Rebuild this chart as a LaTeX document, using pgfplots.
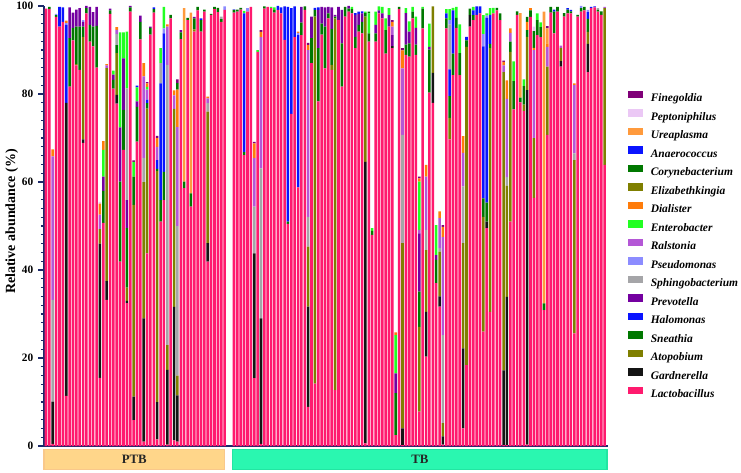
\documentclass[border=0pt]{standalone}
\usepackage{fontspec}
\setmainfont{Liberation Serif}
\usepackage{pgfplots}
\usepackage{pgfplotstable}
\pgfplotsset{compat=1.18}
\usetikzlibrary{calc}

\definecolor{axisblue}{HTML}{1C2A6B}
\definecolor{cL}{HTML}{FF1A6E}
\definecolor{cG}{HTML}{141414}
\definecolor{cA}{HTML}{7F7F00}
\definecolor{cS}{HTML}{007800}
\definecolor{cH}{HTML}{0A14FF}
\definecolor{cP}{HTML}{7400A0}
\definecolor{cSp}{HTML}{A5A5A8}
\definecolor{cPs}{HTML}{8C8CFF}
\definecolor{cR}{HTML}{B457D6}
\definecolor{cE}{HTML}{22FF22}
\definecolor{cD}{HTML}{FF7C0A}
\definecolor{cEl}{HTML}{7F7F00}
\definecolor{cC}{HTML}{007800}
\definecolor{cAn}{HTML}{0A14FF}
\definecolor{cU}{HTML}{FF9A3C}
\definecolor{cPe}{HTML}{EBC8F5}
\definecolor{cF}{HTML}{800078}
\definecolor{ptbfill}{HTML}{FFD68A}
\definecolor{ptbedge}{HTML}{F9C88A}
\definecolor{tbfill}{HTML}{2AF7B0}
\definecolor{tbedge}{HTML}{22E6A2}

% relative abundance (%) per sample; PTB at x=0..53, TB at x=55.8..165.8
\pgfplotstableread{
x L G A S H P Sp Ps R E D El C An U Pe F
0 99.4 0 0 0 0 0 0 0 0 0 0 0 0 0 0 0 0
1 99.3 0 0 0.5 0 0 0 0 0 0 0 0 0 0 0 0 0
2 0.5 9.6 0 0 0 0 23.1 0 32.6 0 1.6 0 0 0 0 0 0
3 97.5 0 0 0.4 0 0 0 0.3 0 0 0 0 0 0 0 0 0
4 95.3 0 0 0 4.5 0 0 0 0 0 0 0 0 0 0 0 0
5 96.4 0 0 0 3.3 0 0 0 0 0 0 0 0 0 0 0 0
6 11.4 66.6 0 0 17.7 0 0 0.4 0 0 0.6 0 0 0 0 0 0
7 81.7 0 0 11 0 7 0 0 0 0 0 0 0 0 0 0 0
8 92.2 0 0 2.8 0 3.5 0 0 0 0 0 0 0 0 0 0 0
9 86.5 0 0.3 8.5 0 3.9 0 0 0 0 0 0 0 0 0 0 0
10 85.5 0 0 9.8 0 4.2 0 0 0 0 0 0 0 0 0 0 0
11 68.9 0.8 23.3 2.3 0 1.1 0 0.4 0 0 0 0 0 0 0 0 0
12 98.3 0 0 1.2 0 0.5 0 0 0 0 0 0 0 0 0 0 0
13 91.9 0 0 3.8 0 4.1 0 0 0 0 0 0 0 0 0 0 0
14 90.8 0 0 4.5 0 3.3 0 0 0 0 0 0 0 0 0 0 0
15 86 0 0 9.5 0 4.3 0 0 0 0 0 0 0 0 0 0 0
16 15.5 30.5 3.3 0 0 0 0 0 3.3 0 2.5 0 0 0 0 0.4 0
17 50.7 0 0 7.3 0 3.2 0 0 0 6.1 2 0 0 0 0 0 0
18 33.2 4.3 48.4 0 0 0 0 0 0.6 0 0.3 0 0 0 0 0 0
19 98.2 0 0 0.8 0 0.4 0 0 0 0 0 0 0 0 0 0 0
20 81.2 0 0 2 0 1.2 0 0 0 0.9 0 0 0 0 0 0 0
21 77.8 2 9.5 1.8 0 0 2.5 0 1 0 0.6 0 0 0 0 0 0
22 41.9 0 0 18.2 0 12.3 0 0 0 21.6 0 0 0 0 0 0 0
23 67.3 0 0 9.1 0 11.7 0 0 0 5.9 0 0 0 0 0 0 0
24 32.5 0.5 3 13.5 0 6.4 25.4 0 0 12.9 0 0 0 0 0 0 0
25 98.7 0 0 1 0 0.3 0 0 0 0 0 0 0 0 0 0 0
26 5.9 5.3 43.6 6.4 0 0 0 0 0 3.4 0 0 0 0 0 0 0.3
27 69.2 0 0 7.9 0 1.2 0 0 0 3.2 0 0 0 0.4 0 0 0
28 92.4 0 0 4 0 1.4 0 0 0 0 0 0 0 0 0 0 0
29 1 28 31 0 0 0 5.5 0 18.5 0 3 0 0 0 0 0 0
30 43.8 0 32.9 1.2 0.8 0 0 0 2.3 0.6 0.8 0 0 0 0 0 0.3
31 93.5 0 0 1.5 0 0.3 0 0 0 0 0 0 0 0 0 0 0
32 98.5 0 0 0.8 0 0 0 0 0 0 0 0 0 0.4 0 0 0
33 1.5 8.5 52.5 0.5 2 0 0 0 3 0 2 0 0 0 0 0 0.5
34 51 0 0 4.9 26.5 0 4.6 0 0 3.4 0 0 0 0 0 0 0
35 55.9 0 0 6.4 31.5 0 0 1.1 0 4.9 0 0 0 0 0 0 0
36 0.3 17 5.6 0 0 0 63.7 0 8.7 0 0.5 0 0 0 0 0 0
37 97.2 0 0 0.8 0 0 0 0 0 0 0 0 0 0 0 0 0
38 1.3 30.3 45 0 0 0 0 0 3.1 0 1.1 0 0 0 0 0 0
39 1 10.5 4.5 0 0 0 34 0 22.5 0 8.5 0 1.5 0 0 0 0.8
40 92.5 0 0 1.5 0 0.5 0 0 0 0 0 0 0 0 0 0 0
41 58.6 0 0 0 0 0 0 0 0 0 0 0 1.5 0 39.4 0 0
42 96.8 0 0 0.5 0 0 0 0 0 0 0 0 0 0 0 0 0
43 54.4 0 0 0 0 0 0 0 0 0 0 0 3 0 41.1 0 0
44 94.2 0 0.5 2.5 0 0.3 0 0 0 0 0 0 0 0 0 0 0
45 99 0 0 0.8 0 0 0 0 0 0 0 0 0 0 0 0 0
46 94.2 0 0 2.6 0.4 0 0 0 0 0 0 0 0 0 0 0 0
47 98.7 0 0 0.5 0 0 0 0 0 0 0 0 0 0 0 0 0
48 41.9 4.2 29.9 0 0 0 1.9 0 1.1 0 0.4 0 0 0 0 0 0
49 98 0 0 0.2 0 0 0 0 0 0 0 0 0 0 0 0 0
50 99.3 0 0 0.5 0 0 0 0 0 0 0 0 0 0 0 0 0
51 98.6 0 0 1 0 0 0 0 0 0 0 0 0 0 0 0 0
52 96.4 0 0 0.6 0 0 0.6 0 0 0 0 0 0 0 0 0 0
53 99.1 0 0 0 0 0 0 0.8 0 0 0 0 0 0 0 0 0
55.8 98.5 0 0 0.6 0 0 0 0.2 0 0 0 0 0 0 0 0 0
56.8 98.7 0 0 0.5 0 0 0 0 0 0 0 0 0 0 0 0 0
57.8 99.2 0 0 0.4 0 0 0 0 0 0 0 0 0 0 0 0 0
58.8 66.1 0 0 0.7 31.5 0 0 0 0 0.6 0 0 0 0 0 0 0
59.8 98.7 0 0 0 0 0 0 0.8 0 0 0 0 0 0 0 0 0
60.8 99.8 0 0 0 0 0 0 0 0 0 0 0 0 0 0 0 0
61.8 15.4 28.4 0 0 0 0 10.6 0 11 0 3.4 0 0 0 0 0 0.3
62.8 89.6 0 0 0 0 0 0 0 0 0.4 0 0 0 0 0 0 0
63.8 0.5 28.5 0 0 0 0 34.1 0 29.8 0 1.2 0 0 0 0 0 0.4
64.8 99.4 0 0 0.5 0 0 0 0 0 0 0 0 0 0 0 0 0
65.8 99.8 0 0 0 0 0 0 0 0 0 0 0 0 0 0 0 0
66.8 99.5 0 0 0 0 0 0 0 0 0.3 0 0 0 0 0 0 0
67.8 98.5 0 0 0.6 0 0 0 0 0 0.6 0 0 0 0 0 0 0
68.8 99.1 0 0 0 0.9 0 0 0 0 0 0 0 0 0 0 0 0
69.8 98.3 0 0 0 1.4 0 0 0 0 0 0 0 0 0 0 0 0
70.8 92.3 0 0 0 7.6 0 0 0 0 0 0 0 0 0 0 0 0
71.8 50.5 0 0 0.5 48.8 0 0 0 0 0 0 0 0 0 0 0 0
72.8 75.5 0 0 0 24 0 0 0 0 0 0 0 0 0 0 0 0
73.8 92.9 0 0 0 7 0 0 0 0 0 0 0 0 0 0 0 0
74.8 58.8 0 0 0 34.6 0 0 0.5 0 0 0.3 0 0 0 0 0 0
75.8 93.4 0 0 2.8 0 3.6 0 0 0 0 0 0 0 0 0 0 0
76.8 99.1 0 0 0.8 0 0 0 0 0 0 0 0 0 0 0 0 0
77.8 8.9 22.8 13.6 0 0 0 6.8 0 37.9 0 1.1 0 0 0 0 0 0.5
78.8 87 0 0 5.7 0 4.9 0 0 0 0 0 0 0 0 0 0 0
79.8 14.2 0 83.4 1.5 0.5 0 0 0 0 0 0 0 0 0 0 0 0
80.8 78.3 0 0 12.1 0 8.7 0 0 0 0 0 0 0 0.6 0 0 0
81.8 93.5 0 0 2.5 0 3.8 0 0 0 0 0 0 0 0 0 0 0
82.8 85.8 0 0 9.5 0 4.4 0 0 0 0 0 0 0 0 0 0 0
83.8 97.2 0 0 1.1 0 1.5 0 0 0 0 0 0 0 0 0 0 0
84.8 85.5 0 1.1 8.2 0 4.9 0 0 0 0 0 0 0 0 0 0 0
85.8 12.7 0 84.5 0.4 0 0.4 0 0 0 0 0 0 0 0 0 0 0
86.8 96.8 0 0 0 0 3 0 0 0 0 0 0 0 0 0 0 0
87.8 81.7 0 0 9.8 0 7.6 0 0 0 0 0 0 0 0 0 0 0
88.8 97.6 0 0 2.2 0 0 0 0 0 0 0 0 0 0 0 0 0
89.8 98.7 0 0 0.7 0 0.6 0 0 0 0 0 0 0 0 0 0 0
90.8 98.3 0 0 1 0 0 0 0 0 0.5 0 0 0 0 0 0 0
91.8 90.4 0 0 2.6 0 5 0 0 0 0 0 0 0 0.4 0 0 0
92.8 94.2 0 0 1.5 0 2.5 0 0 0 0 0 0 0 0.5 0 0 0
93.8 93.8 0 0 2.6 0 1.9 0 0 0 0 0 0 0 0.5 0 0 0
94.8 0.6 64 33 0.8 0 0 0 0 0 0.3 0 0 0 0 0 0 0
95.8 91.9 0 0 1.9 0 0 0 0 0 4.5 0 0 0.4 0 0 0 0
96.8 48 0 0 0.9 0 0 0 0 0 0.6 0 0 0 0 0 0 0
97.8 91.9 0 0 1.9 0 1.9 0 0 0 3 0 0 0 0 0 0 0
98.8 98.3 0 0 0 0 0.7 0 0 0 0.9 0 0 0 0 0 0 0
99.8 97.2 0 0 0 0 1.1 0 0 0 1.5 0 0 0 0 0 0 0
100.8 89.2 0 0 5.3 0 0 0 0 0 2.7 0 0 0 0 0 0 0
101.8 95.3 0 0 0 0 2.6 0 0 0 1.6 0 0 0 0 0 0 0
102.8 90.4 0.5 0 0 0 2.5 0 0 1.9 0 1.1 0 0 0 0 0 0.4
103.8 2.5 0 0 9.5 0 4.5 0 0 0 8.7 0.6 0 0 0 0 0 0
104.8 99.3 0 0 0.5 0 0 0 0 0 0 0 0 0 0 0 0 0
105.8 0.2 3.8 42.1 0 0 0 24.6 0 15.1 0 4.1 0 0 0 0 0 0.5
106.8 88.9 0 0 2.3 0 7.2 0 0 0 1.1 0 0 0 0 0 0 0
107.8 88.5 0 0 3 0 2.7 0 0 0 2.3 0 0 0 0 0 0 0
108.8 97.2 0 0 1.5 0 0 0 0 0 1.1 0 0 0 0 0 0 0
109.8 88.9 0 0 2.3 0 3.8 0 0 0 2.6 0 0 0 0 0 0 0
110.8 7.8 0 19.3 8 0 13.2 0 0 0.8 11 0.7 0 0 0 0 0 0.4
111.8 94.9 0 0 4.5 0 0 0 0 0 0.4 0 0 0 0 0 0 0
112.8 20.3 10.2 14 0 0 0 4.6 0 12.1 0 2.7 0 0 0 0 0 0
113.8 80.3 0 0 9.8 0 0.6 0 0 0 5.3 0 0 0 0 0 0 0
114.8 78 6.8 15.1 0 0 0 0 0 0 0 0 0 0 0 0 0 0
115.8 37 0 0 5.3 0 1.1 0 0 0 6.8 0 0 0 0 0 0 0
116.8 31.7 2.3 10.2 0 0 0 0.8 0 6.8 0 1.5 0 0 0 0 0 0
117.8 0.3 1.9 3 0 0 0 20 0 22.3 0 2.3 0 0 0 0 0 0.4
118.8 94.9 0 0 2.3 1.1 0 0 0 0 1 0 0 0 0 0 0 0
119.8 69.7 0 4.9 4.9 6.1 0 10.2 1 0 2.5 0 0 0 0 0 0 0
120.8 84.3 0 0 4.9 9.8 0 0 0 0 0.6 0 0 0 0 0 0 0
121.8 95 0 0 2.3 0 0 0 0 0 2.5 0 0 0 0 0 0 0
122.8 84.3 0 0 5 0 0 0 0 0 6.5 0 0 0 0 0 0 0
123.8 4 18.2 23.9 0 0 0 12.9 0 7.6 0 3.8 0 0 0 0 0 0
124.8 18.4 0 72.3 1.5 0.8 0 0 0 0 0 0 0 0 0 0 0 0
125.8 95.3 2.6 0 1.5 0 0 0 0 0 0 0 0 0 0 0 0 0
126.8 96.8 0 0 1.1 1.1 0 0 0 0 0.8 0 0 0 0 0 0 0
127.8 98 0 0 0 1.9 0 0 0 0 0 0 0 0 0 0 0 0
128.8 98.3 0 0 0 1.6 0 0 0 0 0 0 0 0 0 0 0 0
129.8 26 0 26.1 4.2 34.5 0 0 2.8 0 4.3 0 0 0 0 0 0 0
130.8 49.5 1.5 0 4.3 42 0 0 0.5 0 0.5 0 0 0 0 0 0 0
131.8 30.5 0 59.9 1 6.6 0 0 0 0 1.5 0 0 0 0 0 0 0
132.8 98.3 0 0 0 0 0 0 0 0 1.3 0 0 0 0 0 0 0
133.8 99 0 0 0.6 0 0 0 0 0 0 0 0 0 0 0 0 0
134.8 96.8 0 0 1.5 0 0 0 0 0 0 0 0 0 0 0 0 0
135.8 0.2 17 67.8 0 0 0 0 0 1.5 0 0.8 0 0 0 0 0 0.3
136.8 0.2 33.7 25.3 0 0 0 1.9 0 17.8 0 4.2 0 0 0 0 0 0
137.8 51 0 38.6 2.3 0 0 0 0 2 0 1 0 0 0 0 0 0
138.8 76.5 0 0 6.4 0 0 0 0 0 4.5 0 0 0 0 0 0 0
139.8 98 0 0 0.8 0 0 0 0 0 0 0 0 0 0 0 0 0
140.8 78.1 0 0 0 0 0 0 0 0 0 0 0 1.1 0 19.2 0 0
141.8 76.1 0 1.5 4.2 0 0 0 0 0 1.5 0 0 0 0 0 0 0
142.8 0.3 80.6 12.1 1.5 0 0 0 0 0 0 1.9 0 1.1 0 0 0 0
143.8 97.5 0 0 1.5 0 0 0 0 0 0 0.5 0 0 0 0 0 0
144.8 56.4 0 13.6 0 0 0 0 0 20 0 0.5 0 3.8 0 0 1 0
145.8 93.4 0 0 3.4 0 0 0 0 0 1.5 0 0 0 0 0 0 0
146.8 92.9 0 0 2.3 0 0 0 0 0 1.1 0 0 0 0 0 0 0
147.8 30.9 0 0 0 0 0 0 0 0 0 0 0 1.5 0 66.3 0 0
148.8 70.7 0 15.5 0 0 0 0 0 4.5 0 0.8 0 0 0 3.4 0 0.5
149.8 98.5 0 0 1.3 0 0 0 0 0 0 0 0 0 0 0 0 0
150.8 93.8 0 0 4.9 0.5 0 0 0 0 0 0 0 0 0 0 0 0
151.8 98.7 0 0 1.1 0 0 0 0 0 0 0 0 0 0 0 0 0
152.8 86.2 1.3 3 0 0 0 0 0 0.5 0 0 0 0 0 0 0 0
153.8 97.6 0 0 0.8 0 0 0 0 0 0 0 0 0 0 0 0 0
154.8 98.3 0 0 0.9 0 0 0 0 0 0 0 0 0 0.3 0 0 0
155.8 98.3 0 0 0.5 0.3 0 0 0 0 0 0 0 0 0 0 0 0
156.8 25.6 0 39.4 0 0 0 1.5 0 15.5 0 0.4 0 0 0 0 0 0
157.8 97.6 0 0 0.4 0 0 0 0 0 0 0 0 0 0 0 0 0
158.8 98.7 0 0 0.8 0 0 0 0.5 0 0 0 0 0 0 0 0 0
159.8 99 0 0 0.8 0 0 0 0 0 0 0 0 0 0 0 0 0
160.8 85 6.4 2.7 3 1.5 0 0 0.5 0 0 0 0 0 0 0 0 0
161.8 99.5 0 0 0 0 0 0 0 0 0 0 0 0 0.3 0 0 0
162.8 99.7 0 0 0 0.2 0 0 0 0 0 0 0 0 0 0 0 0
163.8 98.7 0 0 0.4 0 0 0.4 0 0 0 0 0 0 0 0 0 0
164.8 98 0 0 0.8 0 0 0 0 0 0 0 0 0 0 0 0 0
165.8 63.9 0 35.6 0 0 0 0 0 0.3 0 0 0 0 0 0 0 0
}\abund

\begin{document}
\begin{tikzpicture}
\path[use as bounding box] (0pt,0pt) rectangle (555.75pt,354pt);
\begin{axis}[
  at={(33pt,19.5pt)}, anchor=south west,
  width=423pt, height=330pt, scale only axis,
  ybar stacked, bar width=0.76,
  xmin=-0.6, xmax=166.8, ymin=0, ymax=100,
  axis x line*=bottom, axis y line*=left,
  xtick=\empty,
  ytick={0,20,40,60,80,100},
  minor y tick num=9,
  tick align=outside,
  major tick length=4.5pt, minor tick length=2.3pt,
  axis line style={draw=axisblue, line width=1.4pt},
  tick style={draw=axisblue, line width=0.8pt},
  /pgf/number format/assume math mode=true,
  y tick label style={font=\bfseries\fontsize{8.5}{10}\selectfont},
  ylabel={Relative abundance (\%)},
  ylabel style={font=\bfseries\fontsize{10.5}{12}\selectfont, at={(rel axis cs:-0.057,0.51)}, anchor=center},
  clip=false,
  reverse legend,
  legend cell align=left,
  legend image code/.code={\fill[#1] (0pt,0pt) rectangle (11.25pt,5.5pt);},
  legend style={draw=none, fill=none, inner sep=0pt, outer sep=0pt,
    at={(rel axis cs:1.035,0.8075)}, anchor=north west,
    font=\bfseries\itshape\fontsize{8.6}{10}\selectfont,
    row sep=3.63pt, column sep=6pt,
    nodes={inner sep=0pt, text height=7.5pt, text depth=2pt}},
]
\addplot[fill=cL, draw=none] table[x=x, y=L]{\abund}; \addlegendentry{Lactobacillus}
\addplot[fill=cG, draw=none] table[x=x, y=G]{\abund}; \addlegendentry{Gardnerella}
\addplot[fill=cA, draw=none] table[x=x, y=A]{\abund}; \addlegendentry{Atopobium}
\addplot[fill=cS, draw=none] table[x=x, y=S]{\abund}; \addlegendentry{Sneathia}
\addplot[fill=cH, draw=none] table[x=x, y=H]{\abund}; \addlegendentry{Halomonas}
\addplot[fill=cP, draw=none] table[x=x, y=P]{\abund}; \addlegendentry{Prevotella}
\addplot[fill=cSp, draw=none] table[x=x, y=Sp]{\abund}; \addlegendentry{Sphingobacterium}
\addplot[fill=cPs, draw=none] table[x=x, y=Ps]{\abund}; \addlegendentry{Pseudomonas}
\addplot[fill=cR, draw=none] table[x=x, y=R]{\abund}; \addlegendentry{Ralstonia}
\addplot[fill=cE, draw=none] table[x=x, y=E]{\abund}; \addlegendentry{Enterobacter}
\addplot[fill=cD, draw=none] table[x=x, y=D]{\abund}; \addlegendentry{Dialister}
\addplot[fill=cEl, draw=none] table[x=x, y=El]{\abund}; \addlegendentry{Elizabethkingia}
\addplot[fill=cC, draw=none] table[x=x, y=C]{\abund}; \addlegendentry{Corynebacterium}
\addplot[fill=cAn, draw=none] table[x=x, y=An]{\abund}; \addlegendentry{Anaerococcus}
\addplot[fill=cU, draw=none] table[x=x, y=U]{\abund}; \addlegendentry{Ureaplasma}
\addplot[fill=cPe, draw=none] table[x=x, y=Pe]{\abund}; \addlegendentry{Peptoniphilus}
\addplot[fill=cF, draw=none] table[x=x, y=F]{\abund}; \addlegendentry{Finegoldia}
\coordinate (ptbA) at (axis cs:-0.6,-0.9);
\coordinate (ptbB) at (axis cs:53.0,-5.3);
\coordinate (tbA) at (axis cs:55.4,-0.9);
\coordinate (tbB) at (axis cs:166.5,-5.3);
\end{axis}
\draw[draw=ptbedge, fill=ptbfill, line width=0.8pt] (ptbA) rectangle (ptbB);
\node[font=\bfseries\fontsize{9.6}{11}\selectfont, text=black!85] at ($(ptbA)!0.5!(ptbB)$) {PTB};
\draw[draw=tbedge, fill=tbfill, line width=0.8pt] (tbA) rectangle (tbB);
\node[font=\bfseries\fontsize{9.6}{11}\selectfont, text=black!85] at ($(tbA)!0.5!(tbB)$) {TB};
\end{tikzpicture}
\end{document}
